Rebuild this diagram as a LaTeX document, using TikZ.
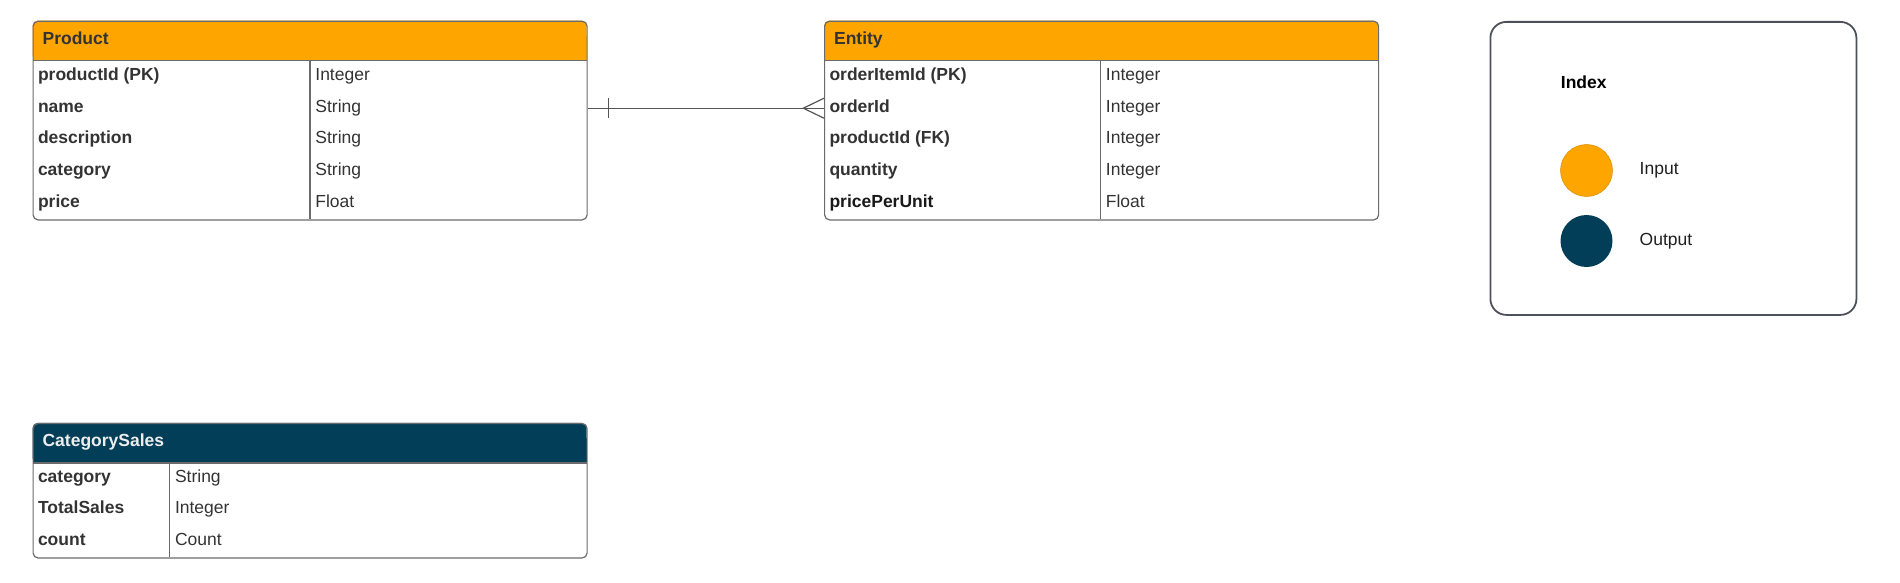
\documentclass[tikz,border=0pt]{standalone}
\usepackage{fontspec}
\setmainfont{Liberation Sans}
\definecolor{inC}{HTML}{FFA500}
\definecolor{outC}{HTML}{023E58}
\definecolor{txtC}{HTML}{333333}
\definecolor{lineC}{HTML}{6B6B6B}
\definecolor{legC}{HTML}{4D525A}
\definecolor{connC}{HTML}{555555}
\begin{document}
\begin{tikzpicture}[x=1pt,y=-1pt,
  tblbox/.style={draw=lineC, line width=1.2pt, rounded corners=5pt, inner sep=0pt, anchor=north west},
  tblline/.style={draw=lineC, line width=1.2pt},
  txtbase/.style={anchor=west, inner sep=0pt, text height=12pt, text depth=4.4pt, font=\fontsize{17.5}{21}\selectfont},
  cellname/.style={txtbase, font=\fontsize{17.5}{21}\selectfont\bfseries, text=txtC},
  celltype/.style={txtbase, text=txtC},
  hdrtext/.style={txtbase, font=\fontsize{17.5}{21}\selectfont\bfseries},
  conn/.style={draw=connC, line width=1.2pt},
  dot/.style={circle, minimum size=52pt, inner sep=0pt}]
\path[use as bounding box] (0,0) rectangle (1900,583);

% ---------------- Product ----------------
\fill[inC, rounded corners=5pt] (32.5,20.6) rectangle (586.5,60.6);
\fill[inC] (32.5,36) rectangle (586.5,60.6);
\node[tblbox, minimum width=554pt, minimum height=198.7pt] (product) at (32.5,20.6) {};
\draw[tblline] (32.5,60.6) -- (586.5,60.6);
\draw[tblline] (310,60.6) -- (310,219.3);
\node[hdrtext, text=txtC] (productH) at (42.4,40.6) {Product};
\foreach \n/\t [count=\i] in {productId (PK)/Integer, name/String, description/String, category/String, price/Float}{
  \node[cellname] (pn\i) at (37.8,{60.6+31.74*(\i-0.5)}) {\n};
  \node[celltype] (pt\i) at (315.2,{60.6+31.74*(\i-0.5)}) {\t};
}

% ---------------- Entity ----------------
\fill[inC, rounded corners=5pt] (824,20.6) rectangle (1378,60.6);
\fill[inC] (824,36) rectangle (1378,60.6);
\node[tblbox, minimum width=554pt, minimum height=198.7pt] (entity) at (824,20.6) {};
\draw[tblline] (824,60.6) -- (1378,60.6);
\draw[tblline] (1100.5,60.6) -- (1100.5,219.3);
\node[hdrtext, text=txtC] (entityH) at (833.9,40.6) {Entity};
\foreach \n/\t [count=\i] in {orderItemId (PK)/Integer, orderId/Integer, productId (FK)/Integer, quantity/Integer}{
  \node[cellname] (en\i) at (829.3,{60.6+31.74*(\i-0.5)}) {\n};
  \node[celltype] (et\i) at (1105.7,{60.6+31.74*(\i-0.5)}) {\t};
}
\node[cellname, text=black!90] (en5) at (829.3,{60.6+31.74*4.5}) {pricePerUnit};
\node[celltype] (et5) at (1105.7,{60.6+31.74*4.5}) {Float};

% ---------------- Connector (one to many) ----------------
\draw[conn] (product.east |- pn2.center) -- (entity.west |- en2.center);
\draw[conn] ([xshift=20.8pt]product.east |- pn2.center) ++(0,-10) -- ++(0,20);
\draw[conn] (entity.west |- en2.center) ++(0,-10) -- ++(-20.7,10) -- ++(20.7,10);

% ---------------- CategorySales ----------------
\fill[outC, rounded corners=5pt] (32.5,422.9) rectangle (586.5,462.9);
\fill[outC] (32.5,438) rectangle (586.5,462.9);
\node[tblbox, minimum width=554pt, minimum height=134.5pt] (catsales) at (32.5,422.9) {};
\draw[tblline] (32.5,462.9) -- (586.5,462.9);
\draw[tblline] (169.6,462.9) -- (169.6,557.4);
\node[hdrtext, text=white!93!black] (catsalesH) at (42.4,442.9) {CategorySales};
\foreach \n/\t [count=\i] in {category/String, TotalSales/Integer, count/Count}{
  \node[cellname] (cn\i) at (37.8,{462.9+31.5*(\i-0.5)}) {\n};
  \node[celltype] (ct\i) at (174.8,{462.9+31.5*(\i-0.5)}) {\t};
}

% ---------------- Legend ----------------
\node[draw=legC, line width=1.8pt, rounded corners=16pt, minimum width=366pt, minimum height=293pt, inner sep=0pt, anchor=north west] (legend) at (1489.5,21) {};
\node[hdrtext, text=black] (legendH) at (1560.7,84.9) {Index};
\node[dot, fill=inC, draw=inC!85!black, line width=0.5pt] (inDot) at (1586.5,170.5) {};
\node[dot, fill=outC] (outDot) at (1586.5,241) {};
\node[celltype, text=black!88] (inLbl) at (1639.5,171.2) {Input};
\node[celltype, text=black!88] (outLbl) at (1639.5,241.7) {Output};
\end{tikzpicture}
\end{document}
